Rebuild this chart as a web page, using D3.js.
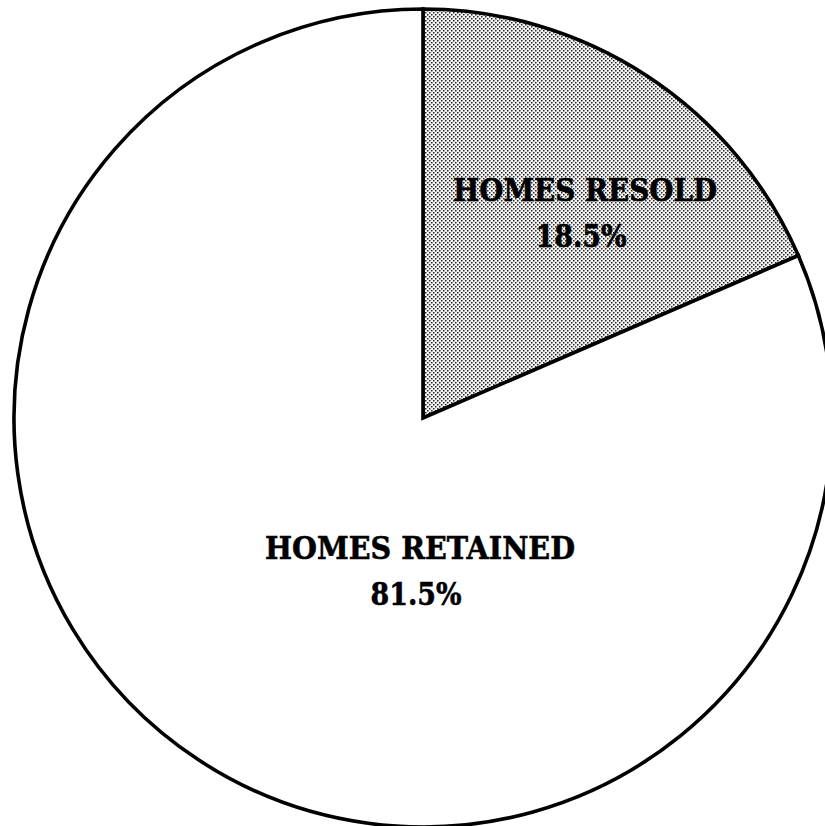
<!DOCTYPE html>
<html>
<head>
<meta charset="utf-8">
<script src="https://cdn.jsdelivr.net/npm/d3@7"></script>
<style>
  html, body { margin: 0; padding: 0; background: #fff; overflow: hidden; }
  svg { display: block; }
</style>
</head>
<body>
<svg id="chart" width="825" height="826"></svg>
<script>
// Share of homes resold vs. retained
const categories = ["HOMES RESOLD", "HOMES RETAINED"];
const values = [18.5, 81.5];
const valueLabels = ["18.5%", "81.5%"];

const svg = d3.select("#chart");
const cx = 423, cy = 418, radius = 409;

// Stippled halftone fill for the resold wedge
const defs = svg.append("defs");
const pat = defs.append("pattern")
  .attr("id", "stipple")
  .attr("patternUnits", "userSpaceOnUse")
  .attr("width", 4).attr("height", 4);
pat.append("rect").attr("width", 4).attr("height", 4).attr("fill", "#f2f2f2");
pat.append("rect").attr("x", 0).attr("y", 0).attr("width", 1.5).attr("height", 1.5).attr("fill", "#2a2a2a");
pat.append("rect").attr("x", 2).attr("y", 2).attr("width", 1.5).attr("height", 1.5).attr("fill", "#2a2a2a");

const fills = d3.scaleOrdinal().domain(categories).range(["url(#stipple)", "#ffffff"]);

const pie = d3.pie().sort(null).value(d => d.value);
const arcs = pie(categories.map((c, i) => ({ name: c, value: values[i], label: valueLabels[i] })));
const arc = d3.arc().innerRadius(0).outerRadius(radius);

const g = svg.append("g").attr("transform", `translate(${cx},${cy})`);

g.selectAll("path.slice")
  .data(arcs)
  .join("path")
  .attr("class", "slice")
  .attr("d", arc)
  .attr("fill", d => fills(d.data.name))
  .attr("stroke", "#000")
  .attr("stroke-width", 3.6)
  .attr("stroke-linejoin", "miter");

// Label placement per slice (offsets from the pie centre)
const labelPos = [
  { x: 162, nameY: -217, valY: -171, nameW: 264, valW: 91 },
  { x: -3, nameY: 141, valY: 187, nameW: 310, valW: 91 }
];

const labels = g.selectAll("g.label")
  .data(arcs)
  .join("g")
  .attr("class", "label")
  .attr("font-family", "'DejaVu Serif', serif")
  .attr("font-weight", "bold")
  .attr("font-size", 32)
  .attr("fill", "#000")
  .attr("stroke", "#000")
  .attr("stroke-width", 0.6)
  .attr("text-anchor", "middle");

labels.append("text")
  .attr("x", (d, i) => labelPos[i].x)
  .attr("y", (d, i) => labelPos[i].nameY)
  .attr("textLength", (d, i) => labelPos[i].nameW)
  .attr("lengthAdjust", "spacingAndGlyphs")
  .text(d => d.data.name);

labels.append("text")
  .attr("x", (d, i) => labelPos[i].x - 4)
  .attr("y", (d, i) => labelPos[i].valY)
  .attr("textLength", (d, i) => labelPos[i].valW)
  .attr("lengthAdjust", "spacingAndGlyphs")
  .text(d => d.data.label);
</script>
</body>
</html>
